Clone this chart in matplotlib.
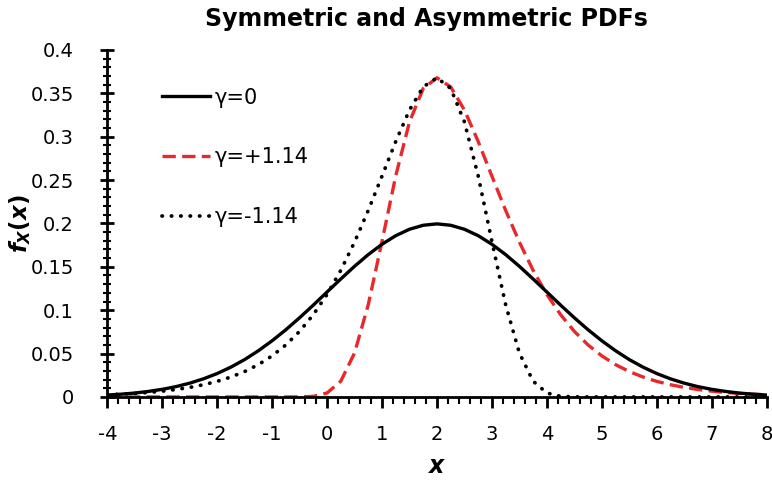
import numpy as np
import matplotlib
matplotlib.use("Agg")
import matplotlib.pyplot as plt
from matplotlib.ticker import MultipleLocator, FixedLocator

plt.rcParams['font.family'] = ['DejaVu Sans']
plt.rcParams['axes.unicode_minus'] = False
plt.rcParams['mathtext.fontset'] = 'custom'
plt.rcParams['mathtext.it'] = 'DejaVu Sans:italic:bold'
plt.rcParams['mathtext.rm'] = 'DejaVu Sans:bold'

# x grid, step 0.25 from -4 to 8
x = np.arange(-4, 8.001, 0.25)

# gamma = 0 (symmetric)
sym = [0.0022, 0.0032, 0.0045, 0.0064, 0.0088, 0.0119, 0.0159, 0.0209, 0.0270,
       0.0344, 0.0431, 0.0533, 0.0648, 0.0775, 0.0913, 0.1059, 0.1210, 0.1360,
       0.1506, 0.1641, 0.1760, 0.1859, 0.1933, 0.1979, 0.1995,
       0.1979, 0.1933, 0.1859, 0.1760, 0.1641, 0.1506, 0.1360, 0.1210, 0.1059,
       0.0913, 0.0775, 0.0648, 0.0533, 0.0431, 0.0344, 0.0270, 0.0209, 0.0159,
       0.0119, 0.0088, 0.0064, 0.0045, 0.0032, 0.0022]

# gamma = +1.14
pos = [0, 0, 0, 0, 0, 0, 0, 0, 0, 0, 0, 0,
       0.0000, 0.0000, 0.0001, 0.0007, 0.0046, 0.0182, 0.0507, 0.1064, 0.1794,
       0.2549, 0.3170, 0.3556, 0.3679, 0.3574, 0.3307, 0.2945, 0.2546, 0.2151,
       0.1785, 0.1460, 0.1182, 0.0949, 0.0756, 0.0600, 0.0474, 0.0373, 0.0293,
       0.0230, 0.0180, 0.0141, 0.0110, 0.0086, 0.0067, 0.0052, 0.0041, 0.0032,
       0.0025]

# gamma = -1.14
neg = [0.0025, 0.0032, 0.0041, 0.0052, 0.0067, 0.0086, 0.0110, 0.0141, 0.0180,
       0.0230, 0.0293, 0.0373, 0.0474, 0.0600, 0.0756, 0.0949, 0.1182, 0.1460,
       0.1785, 0.2151, 0.2546, 0.2945, 0.3307, 0.3574, 0.3679, 0.3556, 0.3170,
       0.2549, 0.1794, 0.1064, 0.0507, 0.0182, 0.0046, 0.0007, 0.0001, 0.0000,
       0.0000,
       0, 0, 0, 0, 0, 0, 0, 0, 0, 0, 0, 0]

y_ticks = [0, 0.05, 0.1, 0.15, 0.2, 0.25, 0.3, 0.35, 0.4]
y_tick_labels = ['0', '0.05', '0.1', '0.15', '0.2', '0.25', '0.3', '0.35', '0.4']

fig = plt.figure(figsize=(7.72, 4.8), dpi=100)
ax = fig.add_axes([0.139, 0.173, 0.854, 0.723])

ax.plot(x, sym, color='black', lw=2.4, label='γ=0', zorder=3)
ax.plot(x, pos, color='#e8282b', lw=2.4, ls=(0, (4, 1.9)), label='γ=+1.14', zorder=2)
ax.plot(x, neg, color='black', lw=2.7, ls=(0, (0.1, 2.4)), dash_capstyle='round',
        label='γ=-1.14', zorder=4)

ax.set_xlim(-4, 8)
ax.set_ylim(0, 0.4)
ax.xaxis.set_major_locator(MultipleLocator(1))
ax.xaxis.set_minor_locator(MultipleLocator(0.2))
ax.yaxis.set_major_locator(FixedLocator(y_ticks))
ax.set_yticklabels(y_tick_labels)
ax.yaxis.set_minor_locator(MultipleLocator(0.01))

for s in ['top', 'right']:
    ax.spines[s].set_visible(False)
for s in ['left', 'bottom']:
    ax.spines[s].set_linewidth(2)

ax.tick_params(axis='y', which='major', direction='inout', length=10, width=2, labelsize=14, pad=19)
ax.tick_params(axis='y', which='minor', direction='inout', length=6, width=1.5)
ax.tick_params(axis='x', which='major', direction='out', length=8, width=2, labelsize=14, pad=12)
ax.tick_params(axis='x', which='minor', direction='out', length=5, width=1.5)

fig.text(0.552, 0.985, 'Symmetric and Asymmetric PDFs', fontsize=17, fontweight='bold',
         ha='center', va='top')
ax.set_xlabel('$x$', fontsize=17)
ax.xaxis.set_label_coords(0.5, -0.165)
ax.set_ylabel('$f_X(x)$', fontsize=16.5)
ax.yaxis.set_label_coords(-0.112, 0.5)

ax.legend(loc='upper left', bbox_to_anchor=(0.055, 0.945), frameon=False, fontsize=15,
          handlelength=2.3, handletextpad=0.2, labelspacing=1.9)

fig.savefig('out.png', dpi=100)
